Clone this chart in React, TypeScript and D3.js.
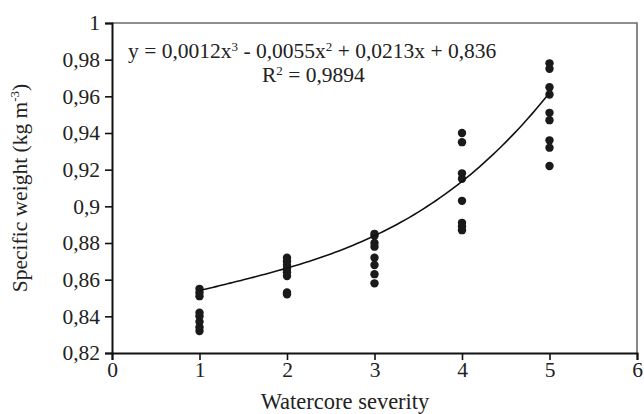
import React, { useEffect, useRef } from 'react';
import * as d3 from 'd3';

// watercore severity classes and specific weight readings per class
const severityLevels = [1, 2, 3, 4, 5];
const weightsBySeverity: number[][] = [
  [0.855, 0.853, 0.851, 0.842, 0.84, 0.837, 0.834, 0.832],
  [0.872, 0.87, 0.868, 0.866, 0.864, 0.862, 0.853, 0.852],
  [0.885, 0.884, 0.88, 0.878, 0.872, 0.868, 0.863, 0.858],
  [0.94, 0.935, 0.918, 0.915, 0.903, 0.891, 0.889, 0.887],
  [0.978, 0.975, 0.965, 0.961, 0.951, 0.947, 0.936, 0.932, 0.922],
];

// cubic trend (a x^3 + b x^2 + c x + d) as drawn
const trendCoef = [0.00111, -0.00399, 0.01651, 0.84037];

const xTicks = [0, 1, 2, 3, 4, 5, 6];
const yTicks = [0.82, 0.84, 0.86, 0.88, 0.9, 0.92, 0.94, 0.96, 0.98, 1];

interface Pt {
  x: number;
  y: number;
}

const App: React.FC = () => {
  const svgRef = useRef<SVGSVGElement | null>(null);

  useEffect(() => {
    if (!svgRef.current) return;

    const width = 644;
    const height = 414;
    const marginLeft = 112;
    const marginRight = 7;
    const marginTop = 23;
    const marginBottom = 61;
    const font = "'Liberation Serif', 'Times New Roman', serif";

    const svg = d3.select(svgRef.current)
      .attr('width', width)
      .attr('height', height)
      .attr('viewBox', `0 0 ${width} ${height}`)
      .style('font-family', font);

    svg.selectAll('*').remove();

    const x = d3.scaleLinear().domain([0, 6]).range([marginLeft, width - marginRight]);
    const y = d3.scaleLinear().domain([0.82, 1]).range([height - marginBottom, marginTop]);

    // plot frame (top/right)
    svg.append('path')
      .attr('d', `M${x(0)},${y(1)}H${x(6)}V${y(0.82)}`)
      .attr('fill', 'none')
      .attr('stroke', '#6a6a6a')
      .attr('stroke-width', 1.6);

    const fmt = (v: number) => String(+v.toFixed(2)).replace('.', ',');

    // x axis
    svg.append('g')
      .attr('transform', `translate(0,${y(0.82)})`)
      .call(d3.axisBottom(x).tickValues(xTicks).tickSize(7).tickSizeOuter(7).tickPadding(2).tickFormat(d => fmt(+d)))
      .call(g => g.attr('font-family', null).attr('font-size', null))
      .call(g => g.select('.domain').attr('stroke', '#111').attr('stroke-width', 2))
      .call(g => g.selectAll('.tick line').attr('stroke', '#111').attr('stroke-width', 1.6))
      .call(g => g.selectAll('.tick text').style('font-family', font).style('font-size', '21.5px').attr('fill', '#222'));

    // y axis
    svg.append('g')
      .attr('transform', `translate(${x(0)},0)`)
      .call(d3.axisLeft(y).tickValues(yTicks).tickSize(7).tickSizeOuter(7).tickPadding(5).tickFormat(d => fmt(+d)))
      .call(g => g.attr('font-family', null).attr('font-size', null))
      .call(g => g.select('.domain').attr('stroke', '#111').attr('stroke-width', 2))
      .call(g => g.selectAll('.tick line').attr('stroke', '#111').attr('stroke-width', 1.6))
      .call(g => g.selectAll('.tick text').style('font-family', font).style('font-size', '21.5px').attr('fill', '#222'));

    // points
    const pts: Pt[] = [];
    severityLevels.forEach((s, i) => weightsBySeverity[i].forEach(w => pts.push({ x: s, y: w })));

    svg.append('g')
      .selectAll('circle')
      .data(pts)
      .join('circle')
      .attr('cx', d => x(d.x))
      .attr('cy', d => y(d.y))
      .attr('r', 4.2)
      .attr('fill', '#1a1a1a');

    // trend line
    const [a, b, c, d0] = trendCoef;
    const f = (v: number) => a * v ** 3 + b * v ** 2 + c * v + d0;
    const xs = d3.range(1, 5.0001, 0.05);
    svg.append('path')
      .datum(xs)
      .attr('fill', 'none')
      .attr('stroke', '#111')
      .attr('stroke-width', 1.6)
      .attr('d', d3.line<number>().x(v => x(v)).y(v => y(f(v))).curve(d3.curveMonotoneX));

    // equation
    const eq = svg.append('text')
      .attr('x', 128)
      .attr('y', 58)
      .style('font-size', '21.5px')
      .attr('fill', '#222');
    eq.append('tspan').text('y = 0,0012x');
    eq.append('tspan').style('font-size', '13px').attr('dy', -7).text('3');
    eq.append('tspan').attr('dy', 7).text(' - 0,0055x');
    eq.append('tspan').style('font-size', '13px').attr('dy', -7).text('2');
    eq.append('tspan').attr('dy', 7).text(' + 0,0213x + 0,836');

    const r2 = svg.append('text')
      .attr('x', 262)
      .attr('y', 82)
      .style('font-size', '21.5px')
      .attr('fill', '#222');
    r2.append('tspan').text('R');
    r2.append('tspan').style('font-size', '13px').attr('dy', -7).text('2');
    r2.append('tspan').attr('dy', 7).text(' = 0,9894');

    // axis titles
    svg.append('text')
      .attr('x', 345)
      .attr('y', 409)
      .attr('text-anchor', 'middle')
      .style('font-size', '22.5px')
      .attr('fill', '#222')
      .text('Watercore severity');

    const yl = svg.append('text')
      .attr('transform', `translate(27,${(y(1) + y(0.82)) / 2}) rotate(-90)`)
      .attr('text-anchor', 'middle')
      .style('font-size', '21.5px')
      .attr('fill', '#222');
    yl.append('tspan').text('Specific weight (kg m');
    yl.append('tspan').style('font-size', '13px').attr('dy', -8).text('-3');
    yl.append('tspan').attr('dy', 8).text(')');
  }, []);

  return (
    <svg ref={svgRef} style={{ position: 'absolute', left: 0, top: 0, background: '#fff' }}></svg>
  );
};

export default App;
